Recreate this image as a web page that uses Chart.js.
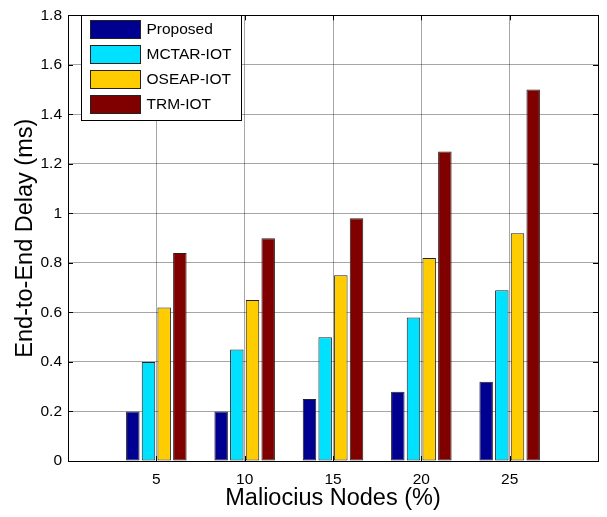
<!DOCTYPE html>
<html>
<head>
<meta charset="utf-8">
<script src="https://cdn.jsdelivr.net/npm/chart.js@4"></script>
<style>
  html, body { margin: 0; padding: 0; background: #fff; }
  #wrap { width: 607px; height: 517px; }
</style>
</head>
<body>
<div id="wrap"><canvas id="grafico"></canvas></div>
<script>
const nodes = [5, 10, 15, 20, 25];
const proposed = [0.2, 0.2, 0.25, 0.28, 0.32];
const mctar = [0.4, 0.45, 0.5, 0.58, 0.69];
const oseap = [0.62, 0.65, 0.75, 0.82, 0.92];
const trm = [0.84, 0.9, 0.98, 1.25, 1.5];
const seriesNames = ['Proposed', 'MCTAR-IOT', 'OSEAP-IOT', 'TRM-IOT'];

const FONT = '"Liberation Sans", Arial, Helvetica, sans-serif';
const cores = ['#000090', '#00E0FF', '#FFCC00', '#800000'];

const pontos = arr => nodes.map((x, i) => ({ x, y: arr[i] }));

// caixa preta em volta + ticks internos (estilo matlab)
const moldura = {
  id: 'moldura',
  afterDatasetsDraw(chart) {
    const { ctx, chartArea: a, scales } = chart;
    ctx.save();
    ctx.strokeStyle = '#000';
    ctx.lineWidth = 1;
    ctx.beginPath();
    scales.y.ticks.forEach(t => {
      const y = Math.round(scales.y.getPixelForValue(t.value)) + 0.5;
      ctx.moveTo(a.left, y); ctx.lineTo(a.left + 5, y);
      ctx.moveTo(a.right, y); ctx.lineTo(a.right - 5, y);
    });
    scales.x.ticks.forEach(t => {
      const x = Math.round(scales.x.getPixelForValue(t.value)) + 0.5;
      ctx.moveTo(x, a.bottom); ctx.lineTo(x, a.bottom - 5);
      ctx.moveTo(x, a.top); ctx.lineTo(x, a.top + 5);
    });
    ctx.stroke();
    ctx.strokeRect(Math.round(a.left) + 0.5, Math.round(a.top) + 0.5,
      Math.round(a.right - a.left), Math.round(a.bottom - a.top));
    ctx.restore();
  }
};

// legenda dentro do grafico, canto superior esquerdo
const legendaInterna = {
  id: 'legendaInterna',
  afterDraw(chart) {
    const { ctx, chartArea: a } = chart;
    const x0 = Math.round(a.left) + 13.5, y0 = Math.round(a.top) + 0.5;
    ctx.save();
    ctx.fillStyle = '#fff';
    ctx.strokeStyle = '#000';
    ctx.lineWidth = 1;
    ctx.fillRect(x0, y0, 160, 105);
    ctx.strokeRect(x0, y0, 160, 105);
    ctx.font = '15.5px ' + FONT;
    ctx.textBaseline = 'middle';
    chart.data.datasets.forEach((ds, i) => {
      const y = y0 + 5 + i * 25;
      ctx.fillStyle = ds.backgroundColor;
      ctx.fillRect(x0 + 9, y, 50, 18);
      ctx.strokeStyle = '#222';
      ctx.strokeRect(x0 + 9, y, 50, 18);
      ctx.fillStyle = '#000';
      ctx.fillText(ds.label, x0 + 65, y + 9.5);
    });
    ctx.restore();
  }
};

new Chart(document.getElementById('grafico'), {
  type: 'bar',
  data: {
    datasets: [proposed, mctar, oseap, trm].map((arr, i) => ({
      label: seriesNames[i],
      data: pontos(arr),
      backgroundColor: cores[i],
      borderColor: '#222',
      borderWidth: 1,
      borderSkipped: false,
      categoryPercentage: 0.71,
      barPercentage: 0.86
    }))
  },
  options: {
    responsive: true,
    maintainAspectRatio: false,
    animation: false,
    layout: { padding: { top: 14, right: 5, left: 0, bottom: 0 } },
    plugins: {
      legend: { display: false },
      tooltip: { enabled: false }
    },
    scales: {
      x: {
        type: 'linear',
        min: 0,
        max: 30,
        offset: false,
        grid: { offset: false, color: 'rgba(0,0,0,0.35)', drawTicks: false },
        border: { color: '#000' },
        afterFit: s => { s.height = 56; },
        ticks: {
          stepSize: 5,
          padding: 9,
          color: '#000',
          font: { family: FONT, size: 15.5 },
          callback: v => (v === 0 || v === 30) ? '' : String(v)
        },
        title: {
          display: true,
          text: 'Maliocius Nodes (%)',
          color: '#000',
          font: { family: FONT, size: 23.5 },
          padding: { top: 0 }
        }
      },
      y: {
        min: 0,
        max: 1.8,
        grid: { color: 'rgba(0,0,0,0.35)', drawTicks: false },
        border: { color: '#000' },
        afterFit: s => { s.width = 68; },
        ticks: {
          stepSize: 0.2,
          padding: 6,
          color: '#000',
          font: { family: FONT, size: 15.5 },
          callback: v => String(+v.toFixed(1))
        },
        title: {
          display: true,
          text: 'End-to-End Delay (ms)',
          color: '#000',
          font: { family: FONT, size: 23.5 },
          padding: { top: 11 }
        }
      }
    }
  },
  plugins: [moldura, legendaInterna]
});
</script>
</body>
</html>
